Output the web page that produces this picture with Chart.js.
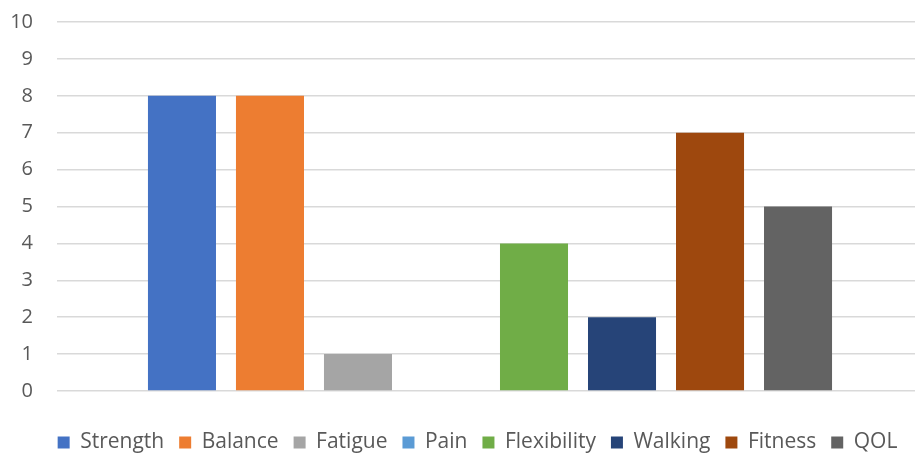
<!DOCTYPE html>
<html>
<head>
<meta charset="utf-8">
<script src="https://cdn.jsdelivr.net/npm/chart.js@4/dist/chart.umd.min.js"></script>
<style>
  html, body { margin: 0; padding: 0; background: #fff; overflow: hidden; }
  #wrap { width: 923px; height: 454px; position: relative; }
</style>
</head>
<body>
<div id="wrap"><canvas id="chart"></canvas></div>
<script>
const categories = [''];
const seriesNames = ['Strength', 'Balance', 'Fatigue', 'Pain', 'Flexibility', 'Walking', 'Fitness', 'QOL'];
const seriesValues = [8, 8, 1, 0, 4, 2, 7, 5];
const seriesColors = ['#4472C4', '#ED7D31', '#A5A5A5', '#5B9BD5', '#70AD47', '#264478', '#9E480E', '#636363'];
const yTicks = [0, 1, 2, 3, 4, 5, 6, 7, 8, 9, 10];

const datasets = seriesNames.map((name, i) => ({
    label: name,
    data: [seriesValues[i]],
    backgroundColor: seriesColors[i],
    borderWidth: 0,
    categoryPercentage: 0.813,
    barPercentage: 0.773
}));

// legend sits low and a bit right of centre, like the Excel original
const legendPlace = {
    id: 'legendPlace',
    beforeUpdate(chart) {
        const lg = chart.legend;
        if (lg && !lg._wrapped) {
            const fit = lg.fit.bind(lg);
            lg.fit = function() { fit(); this.height = 37; };
            lg._wrapped = true;
        }
    },
    afterLayout(chart) {
        chart.legend.left += 16;
        chart.legend.right += 16;
    }
};

new Chart(document.getElementById('chart').getContext('2d'), {
    type: 'bar',
    data: { labels: categories, datasets: datasets },
    options: {
        responsive: true,
        maintainAspectRatio: false,
        animation: false,
        layout: { padding: 0 },
        scales: {
            x: {
                grid: { display: false },
                border: { display: false },
                ticks: { display: false },
                afterFit: axis => { axis.height = 26; }
            },
            y: {
                min: 0,
                max: 10,
                afterBuildTicks: axis => { axis.ticks = yTicks.map(v => ({ value: v })); },
                afterFit: axis => { axis.width = 57; axis.paddingTop = 22; },
                border: { display: false },
                grid: { color: '#D9D9D9', lineWidth: 1.5, drawTicks: false },
                ticks: {
                    color: '#595959',
                    font: { family: 'Open Sans', size: 20 },
                    padding: 24
                }
            }
        },
        plugins: {
            legend: {
                position: 'bottom',
                labels: {
                    color: '#595959',
                    font: { family: 'Open Sans', size: 21 },
                    boxWidth: 12,
                    boxHeight: 12,
                    padding: 15
                }
            },
            tooltip: { enabled: false }
        }
    },
    plugins: [legendPlace]
});
</script>
</body>
</html>
